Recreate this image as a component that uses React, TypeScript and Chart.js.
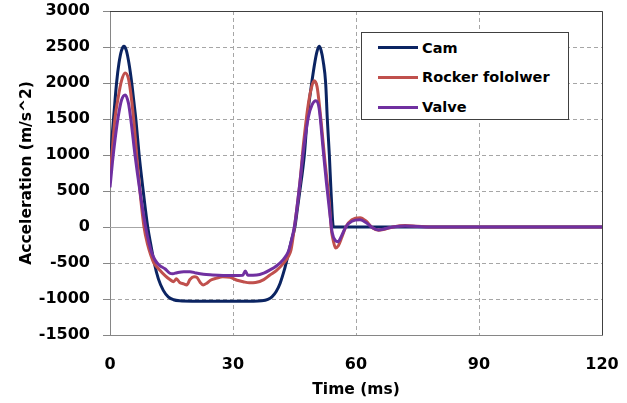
import { useEffect, useRef } from "react";
import { Chart, registerables } from "chart.js";

Chart.register(...registerables);

const FONT = "'DejaVu Sans', sans-serif";

const seriesNames = ["Cam", "Rocker fololwer", "Valve"];
const seriesColors = ["#0b2462", "#c0504d", "#7030a0"];

const camTime = [0, 0.5, 1, 1.6, 2.2, 2.8, 3.4, 4.0, 4.6, 5.3, 5.8, 6.3, 7.1, 8.1, 9.2, 10.0, 10.8, 11.8, 13.0, 14.2, 15.5, 17, 20, 25, 30, 35, 37, 38.5, 39.5, 40.5, 41.5, 42.5, 43.3, 44.2, 45.1, 45.7, 46.3, 47.4, 48.1, 49.2, 50.0, 50.5, 51.0, 51.5, 52.0, 52.6, 53.0, 53.5, 53.9, 54.5, 55, 60, 70, 80, 90, 100, 110, 120];
const camAccel = [833, 1250, 1600, 2000, 2280, 2450, 2510, 2450, 2280, 2000, 1750, 1500, 1000, 500, 0, -260, -500, -720, -880, -970, -1010, -1025, -1030, -1030, -1030, -1030, -1025, -1005, -970, -900, -780, -600, -420, -200, 0, 250, 500, 1000, 1500, 2000, 2300, 2440, 2510, 2450, 2300, 2000, 1500, 1000, 500, 0, 0, 0, 0, 0, 0, 0, 0, 0];

const rockerTime = [0, 0.6, 1.2, 2.0, 2.8, 3.7, 4.5, 5.3, 6.0, 6.5, 7.3, 8.3, 9.2, 10.0, 10.7, 12.0, 13.5, 14.6, 15.5, 16.2, 17.0, 18.0, 18.7, 19.5, 20.5, 21.2, 22.0, 22.7, 23.6, 24.5, 26.0, 27.5, 29.3, 31.0, 32.5, 34.0, 35.5, 37.5, 39.0, 40.5, 42.3, 43.6, 44.1, 44.5, 45.1, 46.3, 47.2, 48.4, 49.2, 49.8, 50.5, 51.2, 52.4, 53.5, 54.0, 54.5, 55.0, 55.7, 56.5, 57.5, 59.0, 61.0, 62.5, 64.0, 65.5, 67.0, 69.0, 72.0, 75.0, 78.0, 90, 120];
const rockerAccel = [700, 1100, 1500, 1800, 2030, 2140, 2060, 1750, 1350, 1000, 500, 0, -250, -400, -500, -590, -680, -730, -760, -720, -770, -790, -805, -730, -690, -700, -770, -805, -780, -740, -710, -690, -700, -740, -760, -775, -770, -730, -667, -610, -505, -400, -330, -200, 50, 607, 1160, 1720, 1950, 2030, 1950, 1625, 930, 330, -40, -200, -290, -260, -150, 0, 100, 130, 80, -10, -45, -30, 0, 20, 10, 0, 0, 0];

const valveTime = [0, 0.6, 1.2, 2.0, 2.8, 3.7, 4.5, 5.1, 6.1, 7.3, 8.7, 9.5, 10.2, 11.0, 12.0, 13.4, 14.6, 15.3, 16.3, 18.0, 19.5, 21.0, 22.8, 25.0, 27.6, 30.0, 32.4, 33.0, 33.6, 35.8, 37.5, 39.0, 40.5, 42.3, 43.5, 44.2, 45.1, 46.3, 47.2, 48.4, 49.3, 50.2, 51.0, 52.0, 52.8, 53.7, 54.2, 55.0, 55.6, 56.5, 57.5, 59.0, 61.0, 62.5, 64.0, 65.5, 67.0, 69.0, 72.0, 75.0, 78.0, 90, 120];
const valveAccel = [550, 900, 1200, 1530, 1760, 1835, 1720, 1486, 1000, 500, 0, -220, -360, -460, -530, -580, -643, -650, -635, -620, -620, -640, -657, -665, -672, -675, -670, -610, -670, -667, -640, -597, -545, -450, -340, -200, 50, 607, 1070, 1532, 1700, 1755, 1650, 1070, 607, 143, -80, -190, -205, -120, 0, 80, 100, 60, -10, -40, -25, 0, 15, 8, 0, 0, 0];

const xTickValues = [0, 30, 60, 90, 120];
const yTickValues = [-1500, -1000, -500, 0, 500, 1000, 1500, 2000, 2500, 3000];

const seriesTimes = [camTime, rockerTime, valveTime];
const seriesValues = [camAccel, rockerAccel, valveAccel];

const framePlugin = {
  id: "frame",
  beforeDatasetsDraw(chart: any) {
    const { ctx, chartArea: a, scales } = chart;
    const y0 = Math.round(scales.y.getPixelForValue(0)) + 0.5;
    ctx.save();
    ctx.strokeStyle = "#a6a6a6";
    ctx.lineWidth = 1;
    ctx.setLineDash([]);
    ctx.beginPath();
    ctx.moveTo(a.left, y0);
    ctx.lineTo(a.right, y0);
    ctx.stroke();
    ctx.restore();
  },
  afterDatasetsDraw(chart: any) {
    const { ctx, chartArea: a } = chart;
    ctx.save();
    ctx.strokeStyle = "#404040";
    ctx.lineWidth = 1;
    ctx.setLineDash([]);
    ctx.beginPath();
    ctx.moveTo(a.left, Math.round(a.top) + 0.5);
    ctx.lineTo(Math.round(a.right) + 0.5, Math.round(a.top) + 0.5);
    ctx.lineTo(Math.round(a.right) + 0.5, a.bottom);
    ctx.stroke();
    ctx.restore();
  },
};

function clearPadding(s: any) {
  s.paddingTop = 0;
  s.paddingBottom = 0;
  s.paddingLeft = 0;
  s.paddingRight = 0;
}

export default function App() {
  const canvasRef = useRef<HTMLCanvasElement | null>(null);

  useEffect(() => {
    if (!canvasRef.current) return;
    Chart.defaults.font.family = FONT;
    const datasets = seriesNames.map((name, i) => ({
      label: name,
      data: seriesTimes[i].map((t, k) => ({ x: t, y: seriesValues[i][k] })),
      borderColor: seriesColors[i],
      backgroundColor: seriesColors[i],
      borderWidth: 3,
      pointRadius: 0,
      cubicInterpolationMode: "monotone" as const,
      fill: false,
      order: 3 - i,
    }));
    const chart = new Chart(canvasRef.current, {
      type: "line",
      data: { datasets },
      options: {
        animation: false,
        responsive: false,
        layout: { padding: { left: 0, right: 25, top: 11, bottom: 0 } },
        plugins: {
          legend: { display: false },
          tooltip: { enabled: false },
        },
        scales: {
          x: {
            type: "linear",
            min: 0,
            max: 120,
            afterBuildTicks: (s: any) => {
              s.ticks = xTickValues.map((v) => ({ value: v }));
            },
            afterFit: (s: any) => {
              s.height = 68;
              clearPadding(s);
            },
            ticks: {
              callback: (v: any) => String(v),
              color: "#000",
              font: { size: 16, weight: "bold", family: FONT },
              padding: 20,
              maxRotation: 0,
            },
            grid: { color: "#a6a6a6", lineWidth: 1, drawTicks: false },
            border: { display: true, color: "#868686", width: 1, dash: [4, 3] },
            title: {
              display: true,
              text: "Time (ms)",
              color: "#000",
              font: { size: 15.5, weight: "bold", family: FONT },
              padding: { top: 0, bottom: 4 },
            },
          },
          y: {
            type: "linear",
            min: -1500,
            max: 3000,
            afterBuildTicks: (s: any) => {
              s.ticks = yTickValues.map((v) => ({ value: v }));
            },
            afterFit: (s: any) => {
              s.width = 110;
              clearPadding(s);
            },
            ticks: {
              callback: (v: any) => String(v),
              color: "#000",
              font: { size: 16, weight: "bold", family: FONT },
              padding: 13,
            },
            grid: { color: "#a6a6a6", lineWidth: 1, tickLength: 7, tickColor: "#868686" },
            border: { display: true, color: "#868686", width: 1, dash: [4, 3] },
            title: {
              display: true,
              text: "Acceleration (m/s^2)",
              color: "#000",
              font: { size: 15.5, weight: "bold", family: FONT },
              padding: { top: 18, bottom: 0 },
            },
          },
        },
      },
      plugins: [framePlugin],
    });
    return () => chart.destroy();
  }, []);

  const rowCenters = [14.7, 44.3, 74];

  return (
    <div style={{ position: "absolute", left: 0, top: 0, width: 627, height: 403, background: "#fff" }}>
      <canvas ref={canvasRef} width={627} height={403} style={{ display: "block" }} />
      <div
        style={{
          position: "absolute",
          left: 361,
          top: 32,
          width: 208,
          height: 88,
          boxSizing: "border-box",
          border: "1px solid #404040",
          background: "#fff",
          fontFamily: FONT,
          fontWeight: "bold",
          fontSize: 14.5,
          color: "#000",
        }}
      >
        {seriesNames.map((name, i) => (
          <div
            key={name}
            style={{ position: "absolute", left: 16, top: rowCenters[i] - 10, height: 20, display: "flex", alignItems: "center", whiteSpace: "nowrap" }}
          >
            <div style={{ width: 40, height: 3, background: seriesColors[i], marginRight: 4 }} />
            <span style={{ lineHeight: "20px" }}>{name}</span>
          </div>
        ))}
      </div>
    </div>
  );
}
